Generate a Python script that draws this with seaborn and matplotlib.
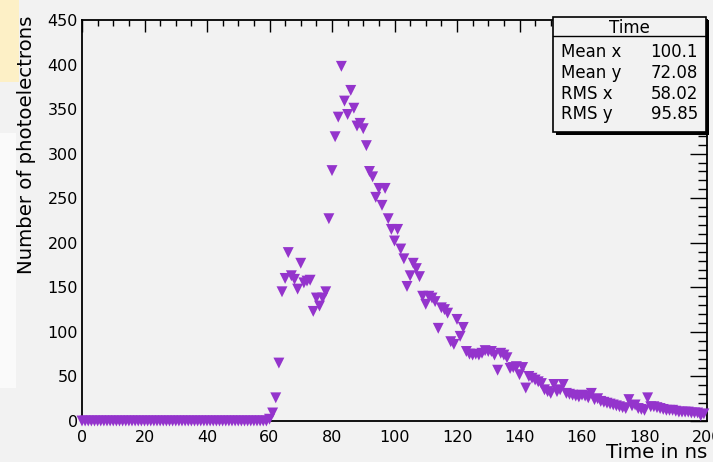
import matplotlib
matplotlib.use("Agg")
import matplotlib.pyplot as plt
import seaborn as sns
import pandas as pd
from matplotlib.ticker import MultipleLocator
from matplotlib.patches import Rectangle

# Photoelectron counts per 1 ns time bin
time_ns = list(range(200))
photoelectrons = [
    0, 0, 0, 0, 0, 0, 0, 0, 0, 0,
    0, 0, 0, 0, 0, 0, 0, 0, 0, 0,
    0, 0, 0, 0, 0, 0, 0, 0, 0, 0,
    0, 0, 0, 0, 0, 0, 0, 0, 0, 0,
    0, 0, 0, 0, 0, 0, 0, 0, 0, 0,
    0, 0, 0, 0, 0, 0, 0, 0, 0, 0,
    2, 9, 26, 65, 145, 160, 189, 163, 159, 148,
    177, 155, 157, 158, 123, 138, 129, 138, 145, 227,
    281, 319, 341, 398, 359, 344, 371, 351, 331, 334,
    328, 309, 280, 274, 251, 261, 242, 261, 227, 215,
    202, 215, 193, 182, 151, 163, 177, 171, 162, 140,
    131, 140, 138, 134, 104, 127, 125, 121, 89, 86,
    114, 95, 105, 78, 75, 74, 75, 74, 76, 79,
    78, 78, 74, 57, 76, 74, 71, 59, 60, 61,
    52, 60, 37, 50, 48, 46, 44, 42, 35, 33,
    31, 41, 33, 35, 41, 31, 30, 29, 28, 27,
    29, 28, 26, 31, 24, 25, 22, 21, 20, 19,
    18, 17, 16, 15, 14, 24, 17, 18, 14, 13,
    12, 26, 16, 16, 15, 14, 13, 12, 12, 12,
    11, 10, 10, 10, 10, 9, 9, 9, 6, 8,
]

x_ticks = list(range(0, 201, 20))
y_ticks = list(range(0, 451, 50))

stat_title = "Time"
stat_names = ["Mean x", "Mean y", "RMS x", "RMS y"]
stat_values = ["100.1", "72.08", "58.02", "95.85"]

df = pd.DataFrame({"t": time_ns, "n": photoelectrons})

sns.set_theme(style="white")
plt.rcParams["font.family"] = ["DejaVu Sans"]
plt.rcParams["text.color"] = "black"

W, H = 713, 462
BG = "#f2f2f2"
fig = plt.figure(figsize=(W / 100, H / 100), dpi=100, facecolor=BG)


def fx(px):
    return px / W


def fy(py):
    return 1 - py / H


# soft panels at the far left edge of the canvas
fig.patches.append(Rectangle((0, fy(82)), fx(19), 82 / H, transform=fig.transFigure,
                             facecolor="#fdf0c6", edgecolor="none", zorder=0))
fig.patches.append(Rectangle((0, fy(388)), fx(16), 255 / H, transform=fig.transFigure,
                             facecolor="#fafafa", edgecolor="none", zorder=0))

ax = fig.add_axes([fx(82), fy(421), (707 - 82) / W, (421 - 20) / H])
ax.set_facecolor(BG)

sns.scatterplot(data=df, x="t", y="n", ax=ax, marker="v", s=62,
                color="#9434cc", edgecolor="none", linewidth=0,
                clip_on=False, zorder=3, legend=False)

ax.set_xlim(0, 200)
ax.set_ylim(0, 450)
ax.set_xticks(x_ticks)
ax.set_yticks(y_ticks)
ax.xaxis.set_minor_locator(MultipleLocator(5))
ax.yaxis.set_minor_locator(MultipleLocator(10))
ax.set_xlabel("")
ax.set_ylabel("")

for sp in ax.spines.values():
    sp.set_color("black")
    sp.set_linewidth(1.3)

ax.tick_params(axis="both", which="both", direction="in", top=True, right=True,
               colors="black", labelcolor="black", width=1.0, labelsize=11.5)
ax.tick_params(axis="x", which="major", length=8.6, pad=6.5)
ax.tick_params(axis="x", which="minor", length=4.3)
ax.tick_params(axis="y", which="major", length=12.5, pad=3)
ax.tick_params(axis="y", which="minor", length=6.2)

# axis titles, placed at the far end of each axis
fig.text(fx(707), fy(453), "Time in ns", ha="right", va="center", fontsize=14.2,
         color="black")
fig.text(fx(27), fy(16), "Number of photoelectrons", ha="center", va="top",
         rotation=90, fontsize=14.2, color="black")

# statistics box with drop shadow
bx0, by0, bx1, by1 = 553, 17, 706, 132
shadow = 3
fig.patches.append(Rectangle((fx(bx0 + shadow), fy(by1 + shadow)), (bx1 - bx0) / W,
                             (by1 - by0) / H, transform=fig.transFigure,
                             facecolor="black", edgecolor="none", zorder=5))
fig.patches.append(Rectangle((fx(bx0), fy(by1)), (bx1 - bx0) / W, (by1 - by0) / H,
                             transform=fig.transFigure, facecolor=BG,
                             edgecolor="black", linewidth=1.2, zorder=6))
fig.lines.append(plt.Line2D([fx(bx0), fx(bx1)], [fy(36), fy(36)],
                            transform=fig.transFigure, color="black",
                            linewidth=1.0, zorder=7))
fig.text(fx((bx0 + bx1) / 2), fy(28), stat_title, ha="center", va="center",
         fontsize=12, zorder=8, color="black")
row_y = [52, 73, 94, 114]
for name, val, ry in zip(stat_names, stat_values, row_y):
    fig.text(fx(561), fy(ry), name, ha="left", va="center", fontsize=12, zorder=8,
             color="black")
    fig.text(fx(698), fy(ry), val, ha="right", va="center", fontsize=12, zorder=8,
             color="black")

fig.savefig("out.png", dpi=100, facecolor=BG)
